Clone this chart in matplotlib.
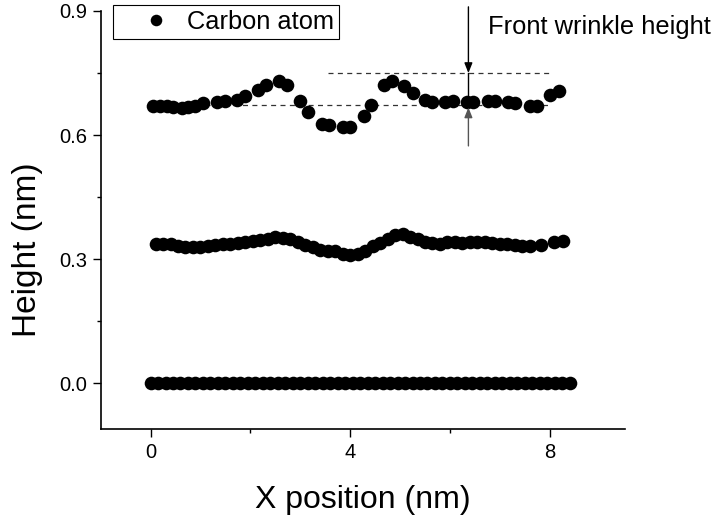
import matplotlib
matplotlib.use("Agg")
import matplotlib.pyplot as plt

plt.rcParams['font.family'] = ['Liberation Sans', 'DejaVu Sans']

# Bottom layer (flat)
x_bottom = [0.00, 0.15, 0.30, 0.45, 0.60, 0.75, 0.90, 1.05, 1.20, 1.35, 1.50, 1.65,
            1.80, 1.95, 2.10, 2.25, 2.40, 2.55, 2.70, 2.85, 3.00, 3.15, 3.30, 3.45,
            3.60, 3.75, 3.90, 4.05, 4.20, 4.35, 4.50, 4.65, 4.80, 4.95, 5.10, 5.25,
            5.40, 5.55, 5.70, 5.85, 6.00, 6.15, 6.30, 6.45, 6.60, 6.75, 6.90, 7.05,
            7.20, 7.35, 7.50, 7.65, 7.80, 7.95, 8.10, 8.25, 8.40]
y_bottom = [0.0] * len(x_bottom)

# Middle layer
x_middle = [0.10, 0.25, 0.40, 0.55, 0.70, 0.85, 1.00, 1.15, 1.30, 1.45, 1.60, 1.75,
            1.90, 2.05, 2.20, 2.35, 2.50, 2.65, 2.80, 2.95, 3.10, 3.25, 3.40, 3.55,
            3.70, 3.85, 4.00, 4.15, 4.30, 4.45, 4.60, 4.75, 4.90, 5.05, 5.20, 5.35,
            5.50, 5.65, 5.80, 5.95, 6.10, 6.25, 6.40, 6.55, 6.70, 6.85, 7.00, 7.15,
            7.30, 7.45, 7.60, 7.82, 8.08, 8.26]
y_middle = [0.337, 0.337, 0.336, 0.333, 0.330, 0.329, 0.330, 0.331, 0.334, 0.336, 0.337, 0.339,
            0.341, 0.344, 0.347, 0.350, 0.354, 0.352, 0.348, 0.341, 0.335, 0.329, 0.322, 0.319,
            0.319, 0.313, 0.310, 0.314, 0.321, 0.331, 0.340, 0.350, 0.359, 0.360, 0.354, 0.348,
            0.343, 0.339, 0.338, 0.342, 0.341, 0.340, 0.342, 0.341, 0.341, 0.340, 0.337, 0.336,
            0.335, 0.333, 0.331, 0.334, 0.341, 0.344]

# Top layer (front wrinkle)
x_top = [0.05, 0.19, 0.33, 0.45, 0.63, 0.75, 0.89, 1.05, 1.34, 1.50, 1.74, 1.90,
         2.16, 2.32, 2.58, 2.74, 3.00, 3.16, 3.43, 3.57, 3.85, 3.99, 4.27, 4.41,
         4.67, 4.83, 5.07, 5.25, 5.51, 5.65, 5.91, 6.07, 6.35, 6.47, 6.77, 6.91,
         7.17, 7.31, 7.60, 7.74, 8.00, 8.18]
y_top = [0.670, 0.670, 0.670, 0.667, 0.665, 0.667, 0.670, 0.677, 0.679, 0.682, 0.686, 0.694,
         0.708, 0.720, 0.730, 0.722, 0.682, 0.655, 0.626, 0.624, 0.619, 0.619, 0.646, 0.674,
         0.722, 0.730, 0.718, 0.703, 0.684, 0.679, 0.679, 0.682, 0.679, 0.679, 0.682, 0.682,
         0.679, 0.677, 0.670, 0.670, 0.696, 0.706]

# Wrinkle height guides
base_level = 0.672
peak_level = 0.750
arrow_x = 6.37

fig = plt.figure(figsize=(7.19, 5.21), dpi=100)
ax = fig.add_axes([0.140, 0.1766, 0.7287, 0.8023])

ms = 9.8
ax.plot(x_bottom, y_bottom, 'o', color='black', ms=ms, mew=0, label='Carbon atom')
ax.plot(x_middle, y_middle, 'o', color='black', ms=ms, mew=0)

# dashed reference lines go under the top-layer points
ax.plot([1.09, 7.98], [base_level, base_level], color='#333333', lw=0.9, dashes=(4, 3.5), zorder=1)
ax.plot([3.56, 8.02], [peak_level, peak_level], color='#333333', lw=0.9, dashes=(4, 3.5), zorder=1)

ax.plot(x_top, y_top, 'o', color='black', ms=ms, mew=0, zorder=3)

# arrows marking the wrinkle height
ax.annotate('', xy=(arrow_x, peak_level), xytext=(arrow_x, 0.91), annotation_clip=False,
            arrowprops=dict(arrowstyle='-|>,head_length=0.5,head_width=0.2', color='black',
                            lw=1, mutation_scale=12, shrinkA=0, shrinkB=0))
ax.plot([arrow_x, arrow_x], [peak_level, base_level], color='black', lw=1, zorder=2)
ax.annotate('', xy=(arrow_x, 0.667), xytext=(arrow_x, 0.574), annotation_clip=False,
            arrowprops=dict(arrowstyle='-|>,head_length=0.5,head_width=0.2', color='#555555',
                            lw=1, mutation_scale=12, shrinkA=0, shrinkB=0))
ax.text(6.77, 0.862, 'Front wrinkle height', fontsize=18.4, ha='left', va='center', clip_on=False)

ax.set_xlim(-1.0, 9.5)
ax.set_ylim(-0.11, 0.9)
ax.set_xticks([0, 4, 8])
ax.set_xticks([2, 6], minor=True)
ax.set_yticks([0.0, 0.3, 0.6, 0.9])
ax.set_yticks([0.15, 0.45, 0.75], minor=True)
ax.set_yticklabels(['0.0', '0.3', '0.6', '0.9'])

ax.tick_params(which='major', direction='out', length=6, width=1, labelsize=14.5, pad=4)
ax.tick_params(which='minor', direction='out', length=3, width=1)

ax.spines['top'].set_visible(False)
ax.spines['right'].set_visible(False)
ax.spines['left'].set_linewidth(1.2)
ax.spines['bottom'].set_linewidth(1.2)

ax.set_xlabel('X position (nm)', fontsize=23)
ax.set_ylabel('Height (nm)', fontsize=24)
ax.xaxis.set_label_coords(0.5, -0.17)
ax.xaxis.label.set_va('center')
ax.yaxis.set_label_coords(-0.139, 0.43)
ax.yaxis.label.set_va('center')

leg = ax.legend(loc='upper left', bbox_to_anchor=(0.0235, 1.0144), borderaxespad=0,
                fancybox=False, edgecolor='black', framealpha=1, fontsize=18.3,
                handlelength=3.0, handletextpad=-0.3, borderpad=0.2, numpoints=1,
                markerscale=0.85)
leg.get_frame().set_linewidth(0.8)

fig.savefig('out.png', dpi=100)
